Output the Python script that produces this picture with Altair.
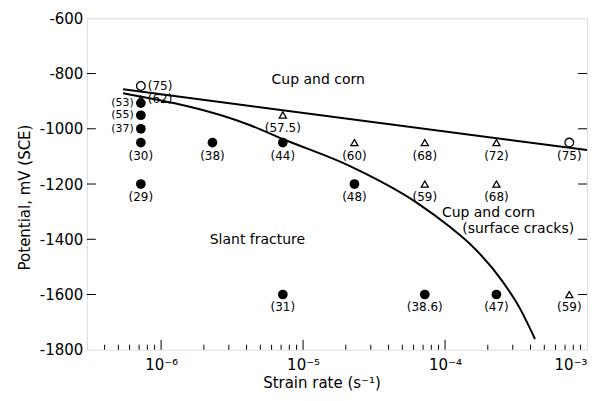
import altair as alt
import pandas as pd
import math

# ---- data ----
pt_x = [7.2e-7, 7.2e-7, 7.2e-7, 7.2e-7, 7.2e-7, 7.2e-7, 7.2e-7,
        2.3e-6, 7.2e-6, 7.2e-6, 7.2e-6, 2.3e-5, 2.3e-5,
        7.2e-5, 7.2e-5, 7.2e-5, 2.3e-4, 2.3e-4, 2.3e-4, 7.5e-4, 7.5e-4]
pt_y = [-845, -893, -907, -951, -1000, -1050, -1200,
        -1050, -950, -1050, -1600, -1050, -1200,
        -1050, -1200, -1600, -1050, -1200, -1600, -1050, -1600]
pt_kind = ["open", "tri", "filled", "filled", "filled", "filled", "filled",
           "filled", "tri", "filled", "filled", "tri", "filled",
           "tri", "tri", "filled", "tri", "tri", "filled", "open", "tri"]
pt_label = ["(75)", "(62)", "(53)", "(55)", "(37)", "(30)", "(29)",
            "(38)", "(57.5)", "(44)", "(31)", "(60)", "(48)",
            "(68)", "(59)", "(38.6)", "(72)", "(68)", "(47)", "(75)", "(59)"]
pt_lpos = ["right", "right", "left", "left", "left", "below", "below",
           "below", "below", "below", "below", "below", "below",
           "below", "below", "below", "below", "below", "below", "below", "below"]

upper_x = [5.4e-7, 1e-3]
upper_y = [-857, -1077]
lower_x = [5.4e-7, 4.24e-6, 7.2e-6, 2.14e-5, 6.35e-5, 1.08e-4, 1.5e-4, 2.56e-4, 3.38e-4, 4.3e-4]
lower_y = [-871, -987, -1037, -1135, -1268, -1355, -1417, -1555, -1652, -1761]

note_text = ["Cup and corn", "Slant fracture", "Cup and corn", "(surface cracks)"]
note_x = [6.0e-6, 2.2e-6, 9.5e-5, 1.32e-4]
note_y = [-824, -1402, -1304, -1362]

x_major = [1e-6, 1e-5, 1e-4, 1e-3]
x_major_labels = ["10⁻⁶", "10⁻⁵", "10⁻⁴", "10⁻³"]
x_minor_mult = [2, 3, 4, 5, 6, 7, 8, 9]
x_minor_decades = [1e-7, 1e-6, 1e-5, 1e-4]
y_major = [-1800, -1600, -1400, -1200, -1000, -800, -600]

# ---- tables ----
pts = pd.DataFrame({"x": pt_x, "y": pt_y, "kind": pt_kind,
                    "label": pt_label, "lpos": pt_lpos})
upper = pd.DataFrame({"x": upper_x, "y": upper_y})
lower = pd.DataFrame({"x": lower_x, "y": lower_y})
notes = pd.DataFrame({"x": note_x, "y": note_y, "t": note_text})
minor_vals = [m * d for d in x_minor_decades for m in x_minor_mult if 3e-7 < m * d < 1e-3]
xminor = pd.DataFrame({"x": minor_vals})
xmajor = pd.DataFrame({"x": x_major[:-1]})
yticks = pd.DataFrame({"y": y_major[1:-1]})

W, H = 501, 332
FONT = "DejaVu Sans"

xs = alt.Scale(type="log", domain=[3e-7, 1e-3], nice=False)
ys = alt.Scale(domain=[-1800, -600], nice=False)

expr_parts = []
for v, lab in zip(x_major, x_major_labels):
    e = round(math.log10(v))
    expr_parts.append(f"round(log(datum.value)/LN10) == {e} ? '{lab}'")
x_label_expr = " : ".join(expr_parts) + " : ''"

x_axis = alt.Axis(values=x_major, labelExpr=x_label_expr, ticks=False, grid=False,
                  domain=False, labelFontSize=15, labelPadding=8,
                  title="Strain rate (s⁻¹)", titleFontSize=15, titleFontWeight="normal",
                  titleX=235, titleY=33, titleBaseline="middle",
                  labelColor="black", titleColor="black", labelFont=FONT, titleFont=FONT)
y_axis = alt.Axis(values=y_major, grid=False, ticks=False, domain=False,
                  labelExpr="datum.value < 0 ? '-' + format(-datum.value, 'd') : format(datum.value, 'd')",
                  labelFontSize=15, labelPadding=4,
                  title="Potential, mV (SCE)", titleFontSize=15, titleFontWeight="normal",
                  titleX=-62, titleY=179, titleBaseline="middle", titleAngle=-90,
                  labelColor="black", titleColor="black", labelFont=FONT, titleFont=FONT)


def X(field="x"):
    return alt.X(f"{field}:Q", scale=xs, axis=x_axis)


def Y(field="y"):
    return alt.Y(f"{field}:Q", scale=ys, axis=y_axis)


base = alt.Chart(pts)

filled = base.transform_filter("datum.kind == 'filled'").mark_point(
    shape="circle", filled=True, color="black", size=95, opacity=1
).encode(x=X(), y=Y())

tri = base.transform_filter("datum.kind == 'tri'").mark_point(
    shape="triangle-up", filled=False, color="black", size=50, strokeWidth=1.3, opacity=1
).encode(x=X(), y=Y())

opn = base.transform_filter("datum.kind == 'open'").mark_point(
    shape="circle", filled=False, color="black", size=75, strokeWidth=1.3, opacity=1
).encode(x=X(), y=Y())


def labels(pos, size=12, **kw):
    return base.transform_filter(f"datum.lpos == '{pos}'").mark_text(
        font=FONT, fontSize=size, color="black", baseline="middle", **kw
    ).encode(x=X(), y=Y(), text="label:N")


lab_below = labels("below", align="center", dy=13)
lab_right = labels("right", align="left", dx=7)
lab_left = labels("left", size=11, align="right", dx=-7)

l_up = alt.Chart(upper).mark_line(color="black", strokeWidth=2).encode(x=X(), y=Y())
l_low = alt.Chart(lower).mark_line(color="black", strokeWidth=2, interpolate="monotone").encode(
    x=X(), y=Y())

txt = alt.Chart(notes).mark_text(font=FONT, fontSize=14, color="black",
                                 align="left", baseline="middle").encode(
    x=X(), y=Y(), text="t:N")

t_minor = alt.Chart(xminor).mark_rule(color="black", strokeWidth=1).encode(
    x=X(), y=alt.value(H), y2=alt.value(H - 5))
t_major = alt.Chart(xmajor).mark_rule(color="black", strokeWidth=1).encode(
    x=X(), y=alt.value(H), y2=alt.value(H - 10))
t_yl = alt.Chart(yticks).mark_rule(color="black", strokeWidth=1).encode(
    y=Y(), x=alt.value(0), x2=alt.value(9))
t_yr = alt.Chart(yticks).mark_rule(color="black", strokeWidth=1).encode(
    y=Y(), x=alt.value(W), x2=alt.value(W - 9))

chart = alt.layer(
    filled, l_up, l_low, tri, opn, lab_below, lab_right, lab_left, txt,
    t_minor, t_major, t_yl, t_yr
).properties(
    width=W, height=H,
    padding={"left": 79, "top": 10, "right": 20, "bottom": 43},
    autosize=alt.AutoSizeParams(type="none"),
    background="white",
).configure_view(stroke="black", strokeWidth=1.5).configure(font=FONT)

chart.save("out.html", embed_options={"renderer": "svg", "actions": False})
